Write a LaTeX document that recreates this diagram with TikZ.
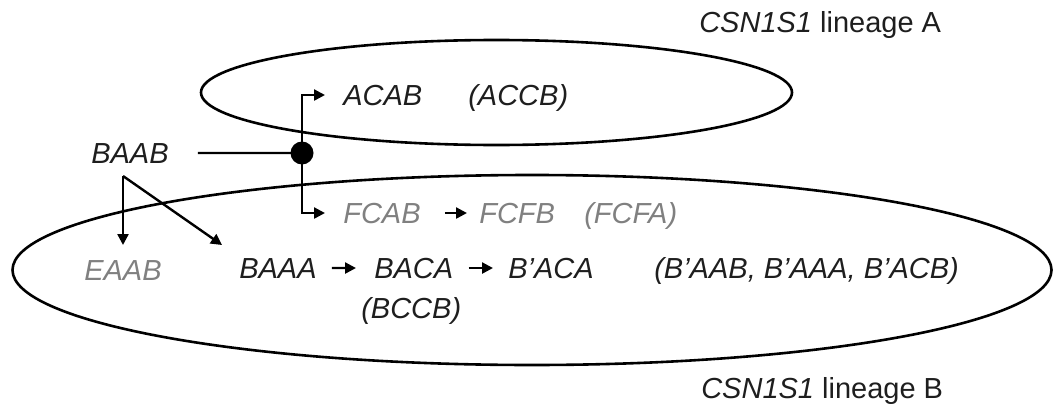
\documentclass[tikz,border=0pt]{standalone}
\usepackage{fontspec}
\setmainfont{Liberation Sans}
\usetikzlibrary{arrows.meta,calc}
\definecolor{ink}{HTML}{1E1E1E}
\definecolor{faded}{HTML}{808080}
\begin{document}
\begin{tikzpicture}[x=1pt,y=-1pt,line width=2.6pt,
  lbl/.style={inner sep=0pt,anchor=base west,text=ink,
    font=\fontsize{29}{34}\selectfont\itshape},
  grey/.style={text=faded},
  plain/.style={inner sep=0pt,anchor=base west,text=ink,
    font=\fontsize{29}{34}\selectfont},
  arr/.style={-{Triangle[length=11pt,width=11pt]},line width=2.4pt},
  conn/.style={line width=2.4pt}]
\useasboundingbox (0,0) rectangle (1054,404);

% lineage A and lineage B regions
\draw (496.5,92.5) ellipse [x radius=295.5pt, y radius=52.5pt];
\draw (532,270) ellipse [x radius=519.5pt, y radius=95pt];

% haplotype labels
\node[lbl] (baab) at (90,163) {BAAB};
\node[lbl] (acab) at (342,105) {ACAB};
\node[lbl] (accb) at (467,105) {(ACCB)};
\node[lbl,grey] (fcab) at (342,223) {FCAB};
\node[lbl,grey] (fcfb) at (478,223) {FCFB};
\node[lbl,grey] (fcfa) at (583,223) {(FCFA)};
\node[lbl,grey] (eaab) at (83,280) {EAAB};
\node[lbl] (baaa) at (238,278) {BAAA};
\node[lbl] (baca) at (373,278) {BACA};
\node[lbl] (bpaca) at (507,278) {B'ACA};
\node[lbl] (bprest) at (653,278) {(B'AAB, B'AAA, B'ACB)};
\node[lbl] (bccb) at (360,318) {(BCCB)};

% lineage names
\node[plain] (linA) at (698,33) {\textit{CSN1S1} lineage A};
\node[plain] (linB) at (700,398) {\textit{CSN1S1} lineage B};

% branching point towards both lineages
\node[circle,fill=black,minimum size=23pt,inner sep=0pt] (hub) at (302,153) {};
\draw[conn] ([xshift=28pt]baab.east) -- (hub.center);
\draw[arr] (hub.center) -- (hub |- acab.west) -- ([xshift=-17pt]acab.west);
\draw[arr] (hub.center) -- (hub |- fcab.west) -- ([xshift=-17pt]fcab.west);

% split below BAAB
\coordinate (split) at (123,176);
\coordinate (toeaab) at (123,245);
\coordinate (tobaaa) at (222,245);
\draw[arr] (split) -- (toeaab);
\draw[arr] (split) -- (tobaaa);

% successive steps
\draw[arr] ([xshift=23pt]fcab.east) -- ([xshift=-11pt]fcfb.west);
\draw[arr] ([xshift=14pt]baaa.east) -- ([xshift=-17pt]baca.west);
\draw[arr] ([xshift=14pt]baca.east) -- ([xshift=-14pt]bpaca.west);
\end{tikzpicture}
\end{document}
